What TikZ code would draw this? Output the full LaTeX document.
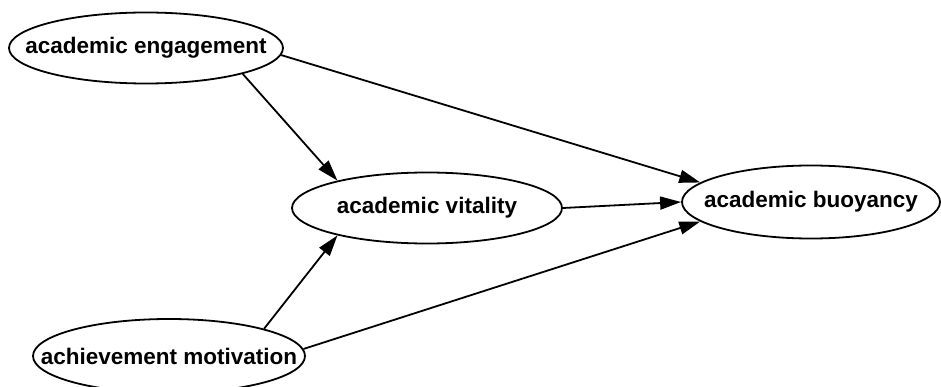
\documentclass[tikz,border=0pt]{standalone}
\usepackage{fontspec}
\setmainfont{Liberation Sans}
\usetikzlibrary{shapes.geometric,arrows.meta}
\begin{document}
\begin{tikzpicture}[x=1pt,y=-1pt,
  lat/.style={ellipse,draw=black,line width=1.8pt,inner sep=0pt,fill=white,
    font=\fontsize{22.5}{26}\selectfont\bfseries},
  conn/.style={line width=1.8pt,-{Triangle[length=21pt,width=13pt]}}]
\useasboundingbox (0,0) rectangle (941,387);
\node[lat,minimum width=274pt,minimum height=71pt] (eng) at (146,48) {\makebox[0pt][c]{academic engagement}};
\node[lat,minimum width=270pt,minimum height=71pt] (vit) at (427,208) {\makebox[0pt][c]{academic vitality}};
\node[lat,minimum width=258pt,minimum height=73pt] (buo) at (811,202) {\makebox[0pt][c]{academic buoyancy}};
\node[lat,minimum width=272pt,minimum height=74pt] (ach) at (169,356) {\makebox[0pt][c]{achievement motivation}};
\draw[conn] (eng.345) -- (vit.163);
\draw[conn] (eng.357) -- (buo.170);
\draw[conn] (vit.0) -- (buo.180);
\draw[conn] (ach.16) -- (vit.197);
\draw[conn] (ach.3) -- (buo.190);
\end{tikzpicture}
\end{document}
